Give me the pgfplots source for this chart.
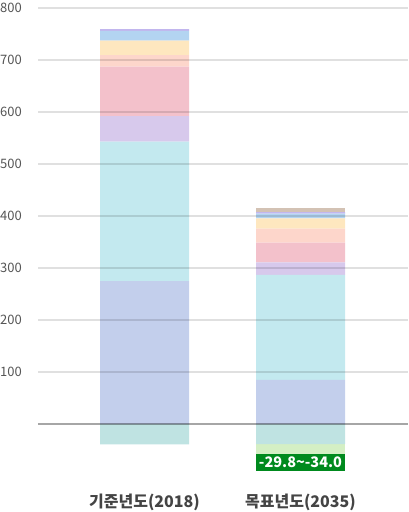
\documentclass[border=0pt]{standalone}
\usepackage{fontspec}
\setmainfont{Noto Sans CJK KR}
\usepackage{pgfplots}
\pgfplotsset{compat=1.18}
\definecolor{cBlue}{HTML}{C3CFEC}
\definecolor{cCyan}{HTML}{C3E9EF}
\definecolor{cLav}{HTML}{D7C9EC}
\definecolor{cPink}{HTML}{F3C1CB}
\definecolor{cPeach}{HTML}{FDD6CB}
\definecolor{cYellow}{HTML}{FEE7BF}
\definecolor{cLBlue}{HTML}{B3D4F1}
\definecolor{cPurple}{HTML}{C2B6EE}
\definecolor{cBrown}{HTML}{D3C2B4}
\definecolor{cTeal}{HTML}{BFE3E2}
\definecolor{cGreen}{HTML}{D4EFC4}
\definecolor{cBox}{HTML}{008A1E}
\definecolor{cTick}{HTML}{555555}
\definecolor{cCat}{HTML}{444444}
\begin{document}
\begin{tikzpicture}
\useasboundingbox (0,0) rectangle (408pt,512pt);
\pgfplotsset{base/.style={
  at={(38pt,36pt)}, anchor=south west,
  scale only axis, width=370pt, height=468pt,
  xmin=0, xmax=370, ymin=-100, ymax=800,
  ybar stacked, bar width=89pt,
  major tick length=0pt,
}}
% negative stack
\begin{axis}[base, hide axis]
\addplot[fill=cTeal, draw=none] coordinates {(106.5,-39) (262.5,-38.5)};
\addplot[fill=cGreen, draw=none] coordinates {(106.5,0) (262.5,-19.2)};
\node[fill=cBox, text=white, font=\bfseries\fontsize{14.5}{14.5}\selectfont, anchor=north, minimum width=89pt, minimum height=17pt, inner sep=0pt] at (axis cs:262.5,-57.7) {-29.8\textasciitilde-34.0};
\end{axis}
% positive stack
\begin{axis}[base,
  axis on top,
  axis line style={draw=none},
  ytick={100,200,...,800},
  ymajorgrids,
  grid style={black, opacity=0.12, line width=1.3pt},
  extra y ticks={0},
  extra y tick labels={},
  extra y tick style={grid style={black, opacity=0.35, line width=1.5pt}},
  /pgf/number format/assume math mode=true,
  yticklabel style={anchor=west, inner sep=0pt, xshift=-38pt, text=cTick, font=\fontsize{13}{13}\selectfont},
  xtick={106.5,262.5},
  xticklabels={기준년도(2018), 목표년도(2035)},
  xticklabel style={text=cCat, font=\bfseries\fontsize{16}{16}\selectfont, yshift=-14pt},
]
\addplot[fill=cBlue, draw=none] coordinates {(106.5,275) (262.5,85)};
\addplot[fill=cCyan, draw=none] coordinates {(106.5,267.9) (262.5,202)};
\addplot[fill=cLav, draw=none] coordinates {(106.5,49.4) (262.5,24)};
\addplot[fill=cPink, draw=none] coordinates {(106.5,94.8) (262.5,37.7)};
\addplot[fill=cPeach, draw=none] coordinates {(106.5,22.5) (262.5,26.9)};
\addplot[fill=cYellow, draw=none] coordinates {(106.5,27.5) (262.5,19.9)};
\addplot[fill=cLBlue, draw=none] coordinates {(106.5,18.7) (262.5,8.9)};
\addplot[fill=cPurple, draw=none] coordinates {(106.5,3.8) (262.5,3.3)};
\addplot[fill=cBrown, draw=none] coordinates {(106.5,0) (262.5,8.3)};
\end{axis}
\end{tikzpicture}
\end{document}
